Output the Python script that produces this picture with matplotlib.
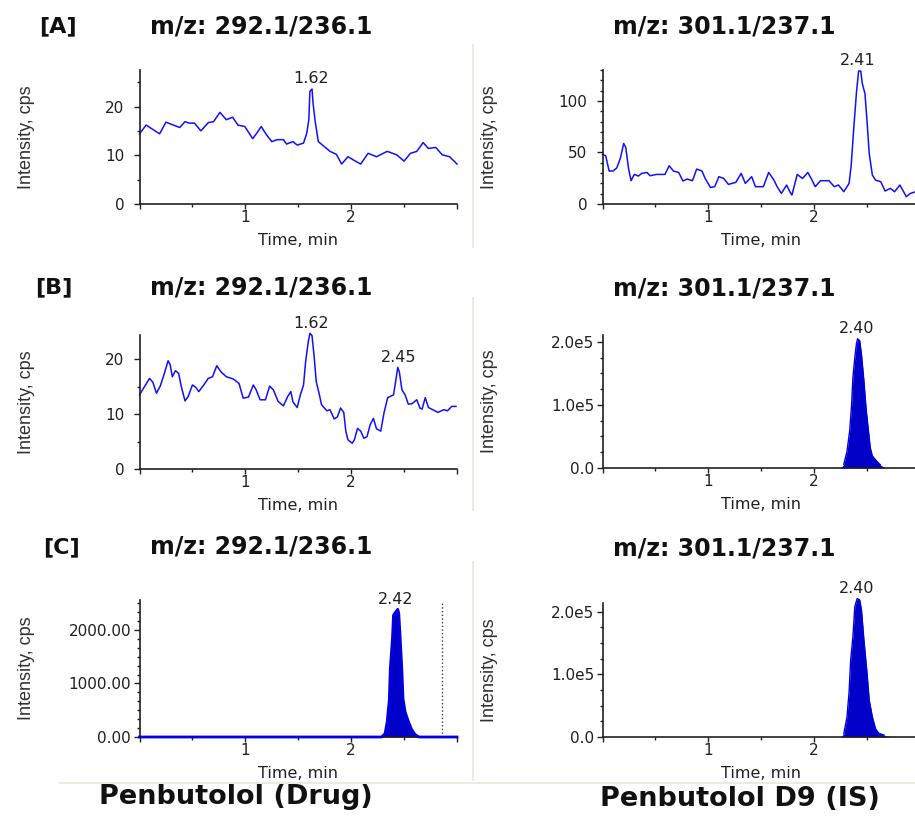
import numpy as np
import matplotlib
matplotlib.use('Agg')
import matplotlib.pyplot as plt
from matplotlib.ticker import MultipleLocator, AutoMinorLocator, FuncFormatter
from matplotlib.lines import Line2D

## --- chromatogram traces (time in min, intensity in cps) --- ##

# [A] blank, drug channel
a_drug_t = [0, 0.063, 0.126, 0.19, 0.25, 0.32, 0.38, 0.43, 0.47, 0.52,
            0.58, 0.65, 0.70, 0.76, 0.82, 0.88, 0.93, 0.995, 1.07, 1.12,
            1.15, 1.20, 1.25, 1.30, 1.36, 1.39, 1.45, 1.49, 1.55, 1.58,
            1.60, 1.61, 1.63, 1.64, 1.66, 1.69, 1.74, 1.80, 1.86, 1.91,
            1.97, 2.04, 2.09, 2.16, 2.24, 2.34, 2.43, 2.50, 2.56, 2.62,
            2.68, 2.73, 2.80, 2.86, 2.93, 3.00]
a_drug_y = [14.4, 16.2, 15.3, 14.4, 16.8, 16.2, 15.7, 16.9, 16.6, 16.6,
            15.0, 16.7, 16.9, 18.8, 17.3, 17.8, 16.2, 15.9, 13.4, 14.9,
            15.9, 14.2, 12.8, 13.2, 13.2, 12.3, 12.8, 12.1, 12.5, 14.5,
            17.3, 23.1, 23.6, 20.7, 16.9, 12.8, 11.9, 10.8, 10.2, 8.2,
            9.7, 8.8, 8.2, 10.4, 9.7, 10.8, 10.1, 8.8, 10.4, 10.8,
            12.6, 11.4, 11.6, 10.1, 9.7, 8.2]

# [A] blank, IS channel
a_is_t = [0, 0.03, 0.063, 0.10, 0.135, 0.17, 0.20, 0.22, 0.246, 0.27,
          0.30, 0.34, 0.37, 0.42, 0.45, 0.51, 0.59, 0.63, 0.67, 0.72,
          0.76, 0.80, 0.85, 0.89, 0.94, 0.97, 1.02, 1.06, 1.10, 1.145,
          1.19, 1.26, 1.31, 1.35, 1.41, 1.445, 1.52, 1.57, 1.62, 1.65,
          1.69, 1.74, 1.77, 1.79, 1.84, 1.89, 1.94, 1.98, 2.01, 2.06,
          2.14, 2.19, 2.23, 2.28, 2.33, 2.35, 2.375, 2.40, 2.42, 2.44,
          2.455, 2.48, 2.50, 2.52, 2.55, 2.58, 2.63, 2.67, 2.72, 2.76,
          2.81, 2.85, 2.87, 2.91, 2.96, 3.0]
a_is_y = [48, 46.8, 32, 32, 35, 44.8, 58.7, 54.8, 34.5, 22.6,
          28.7, 27.1, 29.7, 30.6, 27.4, 28.7, 28.7, 37.1, 32, 30.6,
          22.3, 24.2, 22.6, 33.9, 32, 24.8, 16.1, 16.8, 26.5, 24.8,
          19.0, 21.0, 29.7, 20, 26.5, 16.8, 16.8, 30.6, 23.2, 16.8,
          10.3, 18.4, 11.9, 8.7, 28.7, 24.8, 30.6, 23.2, 16.8, 22.6,
          22.6, 16.8, 18.4, 11.9, 20, 37.7, 74.8, 108.7, 129, 129,
          116.8, 107, 79.7, 49, 28, 23.2, 21.6, 12.6, 15.2, 11.9,
          18.4, 11, 7.1, 10.3, 11.9, 13]

# [B] zero sample, drug channel
b_drug_t = [0, 0.047, 0.095, 0.126, 0.16, 0.196, 0.23, 0.27, 0.29, 0.31,
            0.34, 0.37, 0.395, 0.43, 0.46, 0.50, 0.53, 0.56, 0.60, 0.65,
            0.69, 0.73, 0.77, 0.82, 0.885, 0.94, 0.98, 1.03, 1.075, 1.10,
            1.14, 1.19, 1.23, 1.265, 1.31, 1.36, 1.40, 1.43, 1.45, 1.49,
            1.52, 1.55, 1.57, 1.595, 1.61, 1.63, 1.65, 1.67, 1.70, 1.72,
            1.77, 1.80, 1.84, 1.87, 1.90, 1.93, 1.95, 1.97, 2.01, 2.03,
            2.06, 2.09, 2.12, 2.15, 2.18, 2.21, 2.24, 2.28, 2.31, 2.345,
            2.40, 2.42, 2.44, 2.455, 2.48, 2.51, 2.54, 2.575, 2.62, 2.65,
            2.67, 2.70, 2.73, 2.76, 2.82, 2.875, 2.91, 2.95, 2.99]
b_drug_y = [13.5, 15.0, 16.5, 15.8, 13.8, 15.1, 17.1, 19.7, 19.0, 16.8,
            17.9, 17.4, 15.0, 12.4, 13.2, 15.3, 14.9, 14.1, 15.1, 16.5,
            16.8, 18.8, 17.7, 16.8, 16.4, 15.6, 12.9, 13.1, 15.3, 14.5,
            12.6, 12.6, 15.1, 14.4, 12.3, 11.5, 13.2, 14.1, 12.2, 11.2,
            13.5, 15.3, 19.6, 23.2, 24.7, 24.3, 20.5, 15.9, 13.5, 11.7,
            10.6, 10.8, 9.1, 9.5, 11.1, 10.3, 6.8, 5.3, 4.7, 5.3,
            7.4, 6.9, 5.6, 5.9, 8.1, 9.2, 7.3, 6.9, 10.2, 13.0,
            13.5, 15.9, 18.5, 17.7, 14.4, 13.5, 11.8, 11.9, 12.6, 11.1,
            10.9, 13.0, 11.2, 10.9, 10.3, 10.8, 10.6, 11.4, 11.4]

# [B] zero sample, IS channel
b_is_t = [0, 2.25, 2.28, 2.31, 2.335, 2.353, 2.366, 2.384, 2.40, 2.41,
          2.43, 2.447, 2.47, 2.49, 2.51, 2.53, 2.55, 2.59, 2.625, 2.67, 3.0]
b_is_y = [0, 0, 6000, 26000, 58000, 98000, 143000, 175000, 198000, 205000,
          202000, 180000, 138000, 95000, 63000, 32000, 19000, 11000, 5000, 0, 0]

# [C] LLOQ, drug channel
c_drug_t = [0, 2.287, 2.32, 2.34, 2.36, 2.37, 2.39, 2.40, 2.42, 2.44,
            2.45, 2.46, 2.48, 2.49, 2.51, 2.54, 2.57, 2.605, 2.64, 3.0]
c_drug_y = [0, 0, 62, 280, 685, 1277, 1838, 2274, 2336, 2386,
            2305, 1963, 1215, 716, 467, 293, 143, 44, 0, 0]

# [C] LLOQ, IS channel
c_is_t = [0, 2.25, 2.28, 2.31, 2.33, 2.345, 2.366, 2.384, 2.406, 2.43,
          2.447, 2.47, 2.50, 2.52, 2.55, 2.58, 2.61, 2.66, 2.72, 3.0]
c_is_y = [0, 0, 5000, 32000, 72000, 123000, 160000, 208000, 221000, 219000,
          203000, 155000, 101000, 59000, 32000, 13000, 6000, 3000, 0, 0]

row_tags = ['[A]', '[B]', '[C]']
drug_title = 'm/z: 292.1/236.1'
is_title = 'm/z: 301.1/237.1'
col_names = ['Penbutolol (Drug)', 'Penbutolol D9 (IS)']
peak_labels = [['1.62'], ['2.41'], ['1.62', '2.45'], ['2.40'], ['2.42'], ['2.40']]
ymax = [27.5, 130, 24.4, 2.11e5, 2560, 2.14e5]

W, H = 915, 816
fig = plt.figure(figsize=(W/100., H/100.), dpi=100)
fig.patch.set_facecolor('white')

def rect(l, t, r, b):
    return [l/W, 1 - b/H, (r-l)/W, (b-t)/H]

boxes = [(139.5, 70, 457, 204), (602.5, 70, 920, 204),
         (139.5, 335, 457, 469), (602.5, 335, 920, 468),
         (139.5, 600, 457, 737), (602.5, 603, 920, 737)]

traces = [(a_drug_t, a_drug_y), (a_is_t, a_is_y), (b_drug_t, b_drug_y),
          (b_is_t, b_is_y), (c_drug_t, c_drug_y), (c_is_t, c_is_y)]
filled = [False, False, False, True, True, True]

tick_font = dict(family='DejaVu Sans', size=11)
e5 = FuncFormatter(lambda v, p: '0.0' if v == 0 else '%.1fe5' % (v/1e5))

for k, (box, (t, y)) in enumerate(zip(boxes, traces)):
    ax = fig.add_axes(rect(*box))
    t = np.array(t); y = np.array(y)
    if filled[k]:
        ax.fill_between(t, 0, y, color='#0000c8', lw=0, clip_on=False)
        if k == 4:
            # drug channel shows its baseline as a thick blue line
            ax.plot(t, y, color='#0000e0', lw=2.0, clip_on=False, zorder=3)
        else:
            pk = y > 0
            ax.plot(t[pk], y[pk], color='#0000e0', lw=1.0, clip_on=False)
    else:
        ax.plot(t, y, color='#1010ff', lw=1.1, clip_on=False)

    ax.set_xlim(0, 3.0)
    ax.set_ylim(0, ymax[k])
    for s in ['top', 'right']:
        ax.spines[s].set_visible(False)
    for s in ['left', 'bottom']:
        ax.spines[s].set_linewidth(1.2)
        ax.spines[s].set_color('#202020')

    ax.xaxis.set_major_locator(MultipleLocator(1))
    ax.xaxis.set_minor_locator(MultipleLocator(0.5))
    ax.xaxis.set_major_formatter(FuncFormatter(lambda v, p: '' if v in (0, 3) else '%d' % v))

    if k in (0, 2):
        ax.yaxis.set_major_locator(MultipleLocator(10))
        ax.yaxis.set_minor_locator(MultipleLocator(5))
        ypad = 7
    elif k == 1:
        ax.yaxis.set_major_locator(MultipleLocator(50))
        ax.yaxis.set_minor_locator(MultipleLocator(10))
        ypad = 7
    elif k == 4:
        ax.yaxis.set_major_locator(MultipleLocator(1000))
        ax.yaxis.set_minor_locator(AutoMinorLocator(6))
        ax.yaxis.set_major_formatter(FuncFormatter(lambda v, p: '%.2f' % v))
        ypad = 2
    else:
        ax.yaxis.set_major_locator(MultipleLocator(1e5))
        ax.yaxis.set_minor_locator(AutoMinorLocator(4))
        ax.yaxis.set_major_formatter(e5)
        ypad = 2

    ax.tick_params(axis='x', which='major', length=3.6, width=1, pad=0.5, colors='#202020')
    ax.tick_params(axis='x', which='minor', length=2, width=1, colors='#202020')
    ax.tick_params(axis='y', which='major', length=4, width=1, pad=ypad, colors='#202020')
    ax.tick_params(axis='y', which='minor', length=2, width=1, colors='#202020')
    for lab in ax.get_xticklabels() + ax.get_yticklabels():
        lab.set_fontfamily(tick_font['family'])
        lab.set_fontsize(tick_font['size'])

    hpx = box[3] - box[1]
    ax.set_xlabel('Time, min', fontsize=11.5, family='DejaVu Sans', color='#202020')
    ax.xaxis.set_label_coords(0.5, -29.0/hpx)
    ax.set_ylabel('Intensity, cps', fontsize=13, color='#303030',
                  family=['Liberation Sans Narrow', 'Liberation Sans', 'DejaVu Sans'])
    ax.yaxis.set_label_coords(-0.329, 0.5)

    # retention time labels over the peaks
    for lab in peak_labels[k]:
        rt = float(lab)
        win = np.abs(t - rt) < 0.05
        ax.annotate(lab, xy=(rt, y[win].max()), xytext=(0, 2),
                    textcoords='offset points', ha='center', va='bottom',
                    fontsize=11.5, family='DejaVu Sans', color='#202020',
                    annotation_clip=False)

    if k == 4:
        ax.axvline(2.86, color='#404040', lw=1, ls=':', ymax=0.99)

# headings
tag_x = [58, 54, 62]
row_y = [26, 287, 547]
for tag, tx, ry in zip(row_tags, tag_x, row_y):
    fig.text(tx/W, 1 - ry/H, tag, ha='center', va='center',
             fontsize=16, fontweight='bold', family='DejaVu Sans', color='#111111')
    fig.text(261/W, 1 - ry/H, drug_title, ha='center', va='center',
             fontsize=17, fontweight='bold', family='DejaVu Sans', color='#111111')
    fig.text(724/W, 1 - (ry+1)/H, is_title, ha='center', va='center',
             fontsize=17, fontweight='bold', family='DejaVu Sans', color='#111111')

fig.text(236/W, 1 - 797/H, col_names[0], ha='center', va='center',
         fontsize=19.5, fontweight='bold', family='DejaVu Sans', color='#111111')
fig.text(740/W, 1 - 799/H, col_names[1], ha='center', va='center',
         fontsize=19.5, fontweight='bold', family='DejaVu Sans', color='#111111')

# faint panel separators of the original screenshot
sep = '#ebe6d8'
for y0, y1 in [(45, 247), (298, 510), (562, 780)]:
    fig.add_artist(Line2D([473/W, 473/W], [1 - y0/H, 1 - y1/H],
                          transform=fig.transFigure, color=sep, lw=1.2))
fig.add_artist(Line2D([60/W, 1], [1 - 783/H, 1 - 783/H],
                      transform=fig.transFigure, color=sep, lw=1.2))

fig.savefig('out.png', dpi=100)
